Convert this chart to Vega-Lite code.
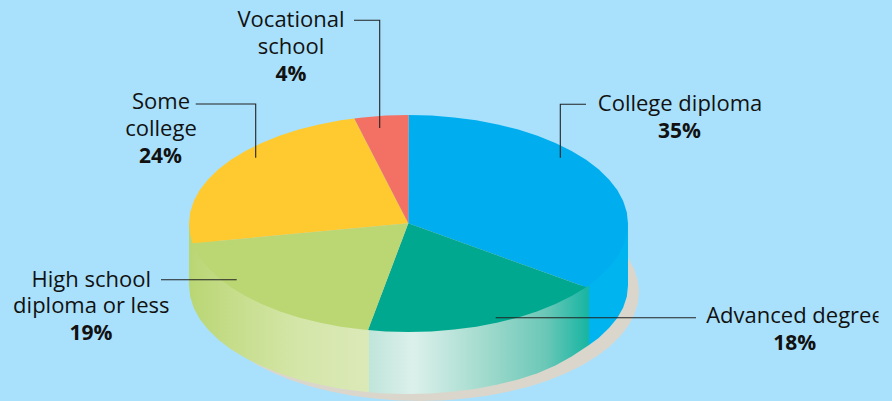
{"$schema":"https://vega.github.io/schema/vega-lite/v6.json","width":892,"height":401,"padding":0,"autosize":{"type":"fit","contains":"padding"},"background":"#a9e1fc","view":{"stroke":null},
"datasets":{
"shadow":[{"seq":1,"x":628.3,"y":258.3},{"seq":2,"x":634.2,"y":269.3},{"seq":3,"x":637.8,"y":280.6},{"seq":4,"x":639,"y":292},{"seq":5,"x":637.8,"y":303.4},{"seq":6,"x":634.2,"y":314.7},{"seq":7,"x":628.3,"y":325.7},{"seq":8,"x":620.1,"y":336.3},{"seq":9,"x":609.7,"y":346.5},{"seq":10,"x":597.2,"y":356.1},{"seq":11,"x":582.7,"y":364.9},{"seq":12,"x":566.5,"y":373},{"seq":13,"x":548.7,"y":380.2},{"seq":14,"x":529.5,"y":386.4},{"seq":15,"x":509.1,"y":391.6},{"seq":16,"x":487.7,"y":395.7},{"seq":17,"x":465.5,"y":398.6},{"seq":18,"x":442.9,"y":400.4},{"seq":19,"x":420,"y":401},{"seq":20,"x":397.1,"y":400.4},{"seq":21,"x":374.5,"y":398.6},{"seq":22,"x":352.3,"y":395.7},{"seq":23,"x":330.9,"y":391.6},{"seq":24,"x":310.5,"y":386.4},{"seq":25,"x":291.3,"y":380.2},{"seq":26,"x":273.5,"y":373},{"seq":27,"x":257.3,"y":364.9},{"seq":28,"x":242.8,"y":356.1},{"seq":29,"x":230.3,"y":346.5},{"seq":30,"x":219.9,"y":336.3},{"seq":31,"x":211.7,"y":325.7},{"seq":32,"x":300,"y":250},{"seq":33,"x":500,"y":210}],
"wallHigh":[{"seq":1,"x":189,"y":223.5},{"seq":2,"x":189,"y":285.5},{"seq":3,"x":190.2,"y":296.8},{"seq":4,"x":193.8,"y":308.1},{"seq":5,"x":199.7,"y":319},{"seq":6,"x":208,"y":329.6},{"seq":7,"x":218.4,"y":339.8},{"seq":8,"x":230.9,"y":349.3},{"seq":9,"x":245.4,"y":358.1},{"seq":10,"x":261.6,"y":366.1},{"seq":11,"x":279.5,"y":373.3},{"seq":12,"x":298.7,"y":379.5},{"seq":13,"x":319.2,"y":384.6},{"seq":14,"x":340.7,"y":388.7},{"seq":15,"x":362.9,"y":391.6},{"seq":16,"x":369,"y":392.3},{"seq":17,"x":369,"y":330.3}],
"wallAdvanced":[{"seq":1,"x":369,"y":330.3},{"seq":2,"x":369,"y":392.3},{"seq":3,"x":385.6,"y":393.4},{"seq":4,"x":408.5,"y":394},{"seq":5,"x":431.4,"y":393.4},{"seq":6,"x":454.1,"y":391.6},{"seq":7,"x":476.3,"y":388.7},{"seq":8,"x":497.8,"y":384.6},{"seq":9,"x":518.3,"y":379.5},{"seq":10,"x":537.5,"y":373.3},{"seq":11,"x":555.4,"y":365.6},{"seq":12,"x":571.6,"y":356.6},{"seq":13,"x":589,"y":345},{"seq":14,"x":589,"y":284}],
"wallCollege":[{"seq":1,"x":589,"y":284},{"seq":2,"x":589,"y":345},{"seq":3,"x":598.6,"y":338},{"seq":4,"x":609,"y":328.1},{"seq":5,"x":617.3,"y":318},{"seq":6,"x":623.2,"y":307.6},{"seq":7,"x":626.8,"y":296.8},{"seq":8,"x":628,"y":285.5},{"seq":9,"x":628,"y":223.5}],
"faces":[
{"slice":"College diploma","seq":0,"x":408.3,"y":223.3},{"slice":"College diploma","seq":1,"x":408.5,"y":115},{"slice":"College diploma","seq":2,"x":431.4,"y":115.6},{"slice":"College diploma","seq":3,"x":454.1,"y":117.4},{"slice":"College diploma","seq":4,"x":476.3,"y":120.3},{"slice":"College diploma","seq":5,"x":497.8,"y":124.4},{"slice":"College diploma","seq":6,"x":518.3,"y":129.5},{"slice":"College diploma","seq":7,"x":537.5,"y":135.7},{"slice":"College diploma","seq":8,"x":555.4,"y":142.9},{"slice":"College diploma","seq":9,"x":571.6,"y":150.9},{"slice":"College diploma","seq":10,"x":586.1,"y":159.7},{"slice":"College diploma","seq":11,"x":598.6,"y":169.2},{"slice":"College diploma","seq":12,"x":609,"y":179.4},{"slice":"College diploma","seq":13,"x":617.3,"y":190},{"slice":"College diploma","seq":14,"x":623.2,"y":200.9},{"slice":"College diploma","seq":15,"x":626.8,"y":212.2},{"slice":"College diploma","seq":16,"x":628,"y":223.5},{"slice":"College diploma","seq":17,"x":626.8,"y":234.8},{"slice":"College diploma","seq":18,"x":623.2,"y":246.1},{"slice":"College diploma","seq":19,"x":617.3,"y":257},{"slice":"College diploma","seq":20,"x":609,"y":267.6},{"slice":"College diploma","seq":21,"x":598.6,"y":277.8},{"slice":"College diploma","seq":22,"x":586.1,"y":287.3},
{"slice":"Advanced degree","seq":0,"x":408.3,"y":223.3},{"slice":"Advanced degree","seq":1,"x":586.1,"y":287.3},{"slice":"Advanced degree","seq":2,"x":571.6,"y":296.1},{"slice":"Advanced degree","seq":3,"x":555.4,"y":304.1},{"slice":"Advanced degree","seq":4,"x":537.5,"y":311.3},{"slice":"Advanced degree","seq":5,"x":518.3,"y":317.5},{"slice":"Advanced degree","seq":6,"x":497.8,"y":322.6},{"slice":"Advanced degree","seq":7,"x":476.3,"y":326.7},{"slice":"Advanced degree","seq":8,"x":454.1,"y":329.6},{"slice":"Advanced degree","seq":9,"x":431.4,"y":331.4},{"slice":"Advanced degree","seq":10,"x":408.5,"y":332},{"slice":"Advanced degree","seq":11,"x":385.6,"y":331.4},{"slice":"Advanced degree","seq":12,"x":368,"y":330},
{"slice":"High school diploma or less","seq":0,"x":408.3,"y":223.3},{"slice":"High school diploma or less","seq":1,"x":368,"y":330},{"slice":"High school diploma or less","seq":2,"x":362.9,"y":329.6},{"slice":"High school diploma or less","seq":3,"x":340.7,"y":326.7},{"slice":"High school diploma or less","seq":4,"x":319.2,"y":322.6},{"slice":"High school diploma or less","seq":5,"x":298.7,"y":317.5},{"slice":"High school diploma or less","seq":6,"x":279.5,"y":311.3},{"slice":"High school diploma or less","seq":7,"x":261.6,"y":304.1},{"slice":"High school diploma or less","seq":8,"x":245.4,"y":296.1},{"slice":"High school diploma or less","seq":9,"x":230.9,"y":287.3},{"slice":"High school diploma or less","seq":10,"x":218.4,"y":277.8},{"slice":"High school diploma or less","seq":11,"x":208,"y":267.6},{"slice":"High school diploma or less","seq":12,"x":199.7,"y":257},{"slice":"High school diploma or less","seq":13,"x":193.8,"y":246.1},{"slice":"High school diploma or less","seq":14,"x":192.7,"y":243.3},
{"slice":"Some college","seq":0,"x":408.3,"y":223.3},{"slice":"Some college","seq":1,"x":192.7,"y":243.3},{"slice":"Some college","seq":2,"x":190.2,"y":234.8},{"slice":"Some college","seq":3,"x":189,"y":223.5},{"slice":"Some college","seq":4,"x":190.2,"y":212.2},{"slice":"Some college","seq":5,"x":193.8,"y":200.9},{"slice":"Some college","seq":6,"x":199.7,"y":190},{"slice":"Some college","seq":7,"x":208,"y":179.4},{"slice":"Some college","seq":8,"x":218.4,"y":169.2},{"slice":"Some college","seq":9,"x":230.9,"y":159.7},{"slice":"Some college","seq":10,"x":245.4,"y":150.9},{"slice":"Some college","seq":11,"x":261.6,"y":142.9},{"slice":"Some college","seq":12,"x":279.5,"y":135.7},{"slice":"Some college","seq":13,"x":298.7,"y":129.5},{"slice":"Some college","seq":14,"x":319.2,"y":124.4},{"slice":"Some college","seq":15,"x":340.7,"y":120.3},{"slice":"Some college","seq":16,"x":354.3,"y":118.4},
{"slice":"Vocational school","seq":0,"x":408.3,"y":223.3},{"slice":"Vocational school","seq":1,"x":354.3,"y":118.4},{"slice":"Vocational school","seq":2,"x":362.9,"y":117.4},{"slice":"Vocational school","seq":3,"x":385.6,"y":115.6},{"slice":"Vocational school","seq":4,"x":408.5,"y":115}],
"leaders":[
{"slice":"Vocational school","seq":1,"x":354,"y":20.3},{"slice":"Vocational school","seq":2,"x":379.7,"y":20.3},{"slice":"Vocational school","seq":3,"x":379.7,"y":128},
{"slice":"Some college","seq":1,"x":195.7,"y":104},{"slice":"Some college","seq":2,"x":255.7,"y":104},{"slice":"Some college","seq":3,"x":255.7,"y":157.7},
{"slice":"College diploma","seq":1,"x":586,"y":104.3},{"slice":"College diploma","seq":2,"x":560.3,"y":104.3},{"slice":"College diploma","seq":3,"x":560.3,"y":157.7},
{"slice":"Advanced degree","seq":1,"x":495.7,"y":317.7},{"slice":"Advanced degree","seq":2,"x":696,"y":317.7},
{"slice":"High school diploma or less","seq":1,"x":161,"y":279.7},{"slice":"High school diploma or less","seq":2,"x":236.7,"y":279.7}],
"labels":[
{"text":"Vocational","x":291,"y":26.7},{"text":"school","x":291,"y":54},
{"text":"Some","x":161,"y":109},{"text":"college","x":161,"y":135.7},
{"text":"College diploma","x":680,"y":111.3},
{"text":"Advanced degree","x":795,"y":323.3},
{"text":"High school","x":91.3,"y":287},{"text":"diploma or less","x":91.3,"y":313.3}],
"shares":[
{"text":"4%","x":291,"y":80.7},{"text":"24%","x":160.5,"y":163.3},{"text":"35%","x":679.5,"y":138.3},{"text":"18%","x":794.7,"y":350},{"text":"19%","x":91,"y":340}],
"mask":[{"x":878.5,"x2":892,"y":300,"y2":332}]
},
"encoding":{
"x":{"field":"x","type":"quantitative","axis":null,"scale":{"domain":[0,892],"nice":false,"zero":false}},
"y":{"field":"y","type":"quantitative","axis":null,"scale":{"domain":[401,0],"nice":false,"zero":false}}
},
"layer":[
{"data":{"name":"shadow"},"mark":{"type":"line","fill":"#dad6cc","stroke":null},"encoding":{"order":{"field":"seq","type":"quantitative"}}},
{"data":{"name":"wallHigh"},"mark":{"type":"line","stroke":null,"fill":{"gradient":"linear","x1":0,"y1":0,"x2":1,"y2":0,"stops":[{"offset":0,"color":"#b9d673"},{"offset":0.25,"color":"#c6dd8b"},{"offset":0.6,"color":"#d4e6a8"},{"offset":1,"color":"#dbe9b8"}]}},"encoding":{"order":{"field":"seq","type":"quantitative"}}},
{"data":{"name":"wallAdvanced"},"mark":{"type":"line","stroke":null,"fill":{"gradient":"linear","x1":0,"y1":0,"x2":1,"y2":0,"stops":[{"offset":0,"color":"#bfe5da"},{"offset":0.2,"color":"#dcf0eb"},{"offset":0.5,"color":"#a6dccf"},{"offset":0.8,"color":"#6cc8b8"},{"offset":1,"color":"#16b5a2"}]}},"encoding":{"order":{"field":"seq","type":"quantitative"}}},
{"data":{"name":"wallCollege"},"mark":{"type":"line","stroke":null,"fill":"#00b4f0"},"encoding":{"order":{"field":"seq","type":"quantitative"}}},
{"data":{"name":"faces"},"mark":{"type":"line","filled":true,"stroke":null},"encoding":{"order":{"field":"seq","type":"quantitative"},"fill":{"field":"slice","type":"nominal","legend":null,"scale":{"domain":["College diploma","Advanced degree","High school diploma or less","Some college","Vocational school"],"range":["#00aeef","#00a88f","#bbd773","#ffca2f","#f37064"]}}}},
{"data":{"name":"leaders"},"mark":{"type":"line","stroke":"#222222","strokeWidth":1.1},"encoding":{"order":{"field":"seq","type":"quantitative"},"detail":{"field":"slice","type":"nominal"}}},
{"data":{"name":"labels"},"mark":{"type":"text","font":"Open Sans","fontSize":22,"align":"center","baseline":"alphabetic","fill":"#111111"},"encoding":{"text":{"field":"text","type":"nominal"}}},
{"data":{"name":"shares"},"mark":{"type":"text","font":"Open Sans","fontSize":21,"fontWeight":"bold","align":"center","baseline":"alphabetic","fill":"#111111"},"encoding":{"text":{"field":"text","type":"nominal"}}},
{"data":{"name":"mask"},"mark":{"type":"rect","fill":"#a9e1fc"},"encoding":{"x2":{"field":"x2"},"y2":{"field":"y2"}}}
]}
